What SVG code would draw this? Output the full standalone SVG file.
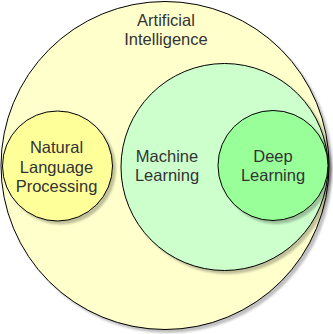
<svg xmlns="http://www.w3.org/2000/svg" width="333" height="334" viewBox="0 0 333 334">
  <defs>
    <filter id="shadow" x="-10%" y="-10%" width="125%" height="125%">
      <feGaussianBlur in="SourceAlpha" stdDeviation="1.2"/>
      <feOffset dx="3" dy="3" result="off"/>
      <feComponentTransfer><feFuncA type="linear" slope="0.25"/></feComponentTransfer>
      <feMerge><feMergeNode/><feMergeNode in="SourceGraphic"/></feMerge>
    </filter>
  </defs>
  <style>
    .set { stroke: #000000; stroke-width: 1; filter: url(#shadow); }
    .label { font-family: "Liberation Sans", Arial, sans-serif; font-size: 16.5px; fill: #333333; text-anchor: middle; }
  </style>
  <rect width="333" height="334" fill="#ffffff"/>
  <g id="ai">
    <circle class="set" cx="165" cy="165.5" r="164" fill="#ffffcc"/>
    <text class="label" x="166" y="26">Artificial</text>
    <text class="label" x="166" y="45">Intelligence</text>
  </g>
  <g id="nlp">
    <circle class="set" cx="57.5" cy="166" r="55" fill="#ffff99"/>
    <text class="label" x="56.5" y="153">Natural</text>
    <text class="label" x="56.5" y="172.5">Language</text>
    <text class="label" x="56.5" y="192">Processing</text>
  </g>
  <g id="ml">
    <circle class="set" cx="224.5" cy="167" r="103.5" fill="#ccffcc"/>
    <text class="label" x="167" y="161.5">Machine</text>
    <text class="label" x="167" y="180.5">Learning</text>
  </g>
  <g id="dl">
    <circle class="set" cx="273" cy="165.5" r="55" fill="#99ff99"/>
    <text class="label" x="273" y="161.5">Deep</text>
    <text class="label" x="273" y="180.5">Learning</text>
  </g>
  <g id="connectors"/>
</svg>
